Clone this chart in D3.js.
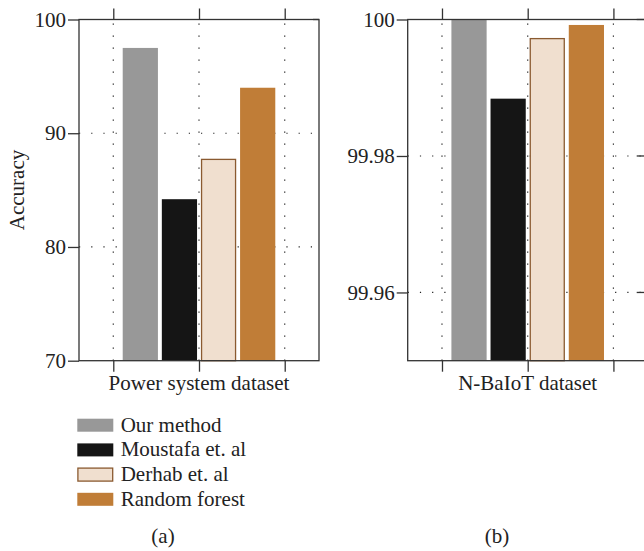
<!DOCTYPE html>
<html>
<head>
<meta charset="utf-8">
<script src="https://cdn.jsdelivr.net/npm/d3@7"></script>
<style>
  body { margin: 0; background: #fff; }
  text { font-family: "Liberation Serif", "DejaVu Serif", serif; fill: #222; }
</style>
</head>
<body>
<svg id="chart" width="644" height="551"></svg>
<script>
// data
const series = ["Our method", "Moustafa et. al", "Derhab et. al", "Random forest"];
const powerAcc = [97.5, 84.2, 87.7, 94.0];
const baiotAcc = [100.0, 99.9884, 99.9972, 99.9992];
const powerTicks = [70, 80, 90, 100];
const baiotTicks = [99.96, 99.98, 100];
const datasetLabels = ["Power system dataset", "N-BaIoT dataset"];
const panelLabels = ["(a)", "(b)"];

const fills = ["#989898", "#151515", "#f0dfcf", "#c07d37"];
const strokes = [null, null, "#8a5a30", null];
const axisColor = "#333";

const svg = d3.select("#chart");
const plotTop = 19.5, plotBottom = 360.7;

function drawPanel(opts) {
  const g = svg.append("g");
  const x = d3.scaleLinear().domain([0.3, 1.7]).range([opts.left, opts.left + 240]);
  const y = d3.scaleLinear().domain(opts.yDomain).range([plotBottom, plotTop]);
  const xTicks = [0.5, 1, 1.5];

  // dotted grid, behind bars
  g.selectAll(".vgrid").data(xTicks).enter().append("line")
    .attr("x1", d => x(d)).attr("x2", d => x(d))
    .attr("y1", plotBottom).attr("y2", plotTop)
    .attr("stroke", "#222").attr("stroke-width", 1.2)
    .attr("stroke-dasharray", "1.2,10.8");
  g.selectAll(".hgrid").data(opts.yTicks.filter(d => d !== opts.yDomain[0] && d !== opts.yDomain[1])).enter().append("line")
    .attr("x1", x.range()[0]).attr("x2", x.range()[1])
    .attr("y1", d => y(d)).attr("y2", d => y(d))
    .attr("stroke", "#222").attr("stroke-width", 1.2)
    .attr("stroke-dasharray", "1.2,11");

  // bars
  const band = d3.scaleBand().domain(series)
    .range([x(1 - 0.445), x(1 + 0.445)]).paddingInner(0.1).paddingOuter(0);
  g.selectAll(".bar").data(opts.values).enter().append("rect")
    .attr("x", (d, i) => band(series[i]) + (strokes[i] ? 0.6 : 0))
    .attr("width", (d, i) => band.bandwidth() - (strokes[i] ? 1.2 : 0))
    .attr("y", d => y(d))
    .attr("height", d => y(opts.yDomain[0]) - y(d))
    .attr("fill", (d, i) => fills[i])
    .attr("stroke", (d, i) => strokes[i] || "none")
    .attr("stroke-width", 1.3);

  // box
  const [x0, x1] = x.range();
  g.append("rect").attr("x", x0).attr("y", plotTop).attr("width", x1 - x0).attr("height", plotBottom - plotTop)
    .attr("fill", "none").attr("stroke", axisColor).attr("stroke-width", 1.3);

  // left axis, outward ticks
  const yAxis = g.append("g").attr("transform", `translate(${x0},0)`)
    .call(d3.axisLeft(y).tickValues(opts.yTicks).tickSize(11).tickPadding(2).tickFormat(opts.fmt));
  yAxis.select(".domain").remove();
  yAxis.selectAll("line").attr("stroke", axisColor).attr("stroke-width", 1.3);
  yAxis.selectAll("text").attr("font-size", 21).attr("font-family", "Liberation Serif").attr("fill", "#222");

  // right side inward ticks
  g.selectAll(".rtick").data(opts.rightTicks).enter().append("line")
    .attr("x1", x1 - opts.rightLen).attr("x2", x1)
    .attr("y1", d => y(d)).attr("y2", d => y(d))
    .attr("stroke", axisColor).attr("stroke-width", 1.3);

  // bottom and top x ticks, outward
  const xb = g.append("g").attr("transform", `translate(0,${plotBottom})`)
    .call(d3.axisBottom(x).tickValues(xTicks).tickSize(11).tickFormat(""));
  xb.select(".domain").remove();
  xb.selectAll("line").attr("stroke", axisColor).attr("stroke-width", 1.3);
  const xt = g.append("g").attr("transform", `translate(0,${plotTop})`)
    .call(d3.axisTop(x).tickValues(xTicks).tickSize(11).tickFormat(""));
  xt.select(".domain").remove();
  xt.selectAll("line").attr("stroke", axisColor).attr("stroke-width", 1.3);

  g.append("text").attr("x", x(1)).attr("y", 390)
    .attr("text-anchor", "middle").attr("font-size", 21).text(opts.label);
  g.append("text").attr("x", opts.panelX).attr("y", 543)
    .attr("text-anchor", "middle").attr("font-size", 21).text(opts.panel);
}

drawPanel({
  left: 79, yDomain: [70, 100], yTicks: powerTicks, values: powerAcc,
  fmt: d3.format("d"), rightTicks: [100], rightLen: 6,
  label: datasetLabels[0], panel: panelLabels[0], panelX: 163
});
drawPanel({
  left: 407.7, yDomain: [99.95, 100], yTicks: baiotTicks, values: baiotAcc,
  fmt: d => d === 100 ? "100" : d.toFixed(2), rightTicks: baiotTicks, rightLen: 11,
  label: datasetLabels[1], panel: panelLabels[1], panelX: 497
});

// y label
svg.append("text").attr("transform", "translate(24,190) rotate(-90)")
  .attr("text-anchor", "middle").attr("font-size", 21).text("Accuracy");

// legend
const legend = svg.append("g").attr("transform", "translate(77.3,0)");
const rows = legend.selectAll("g").data(series).enter().append("g")
  .attr("transform", (d, i) => `translate(0,${431.7 + i * 24.7})`);
rows.append("rect")
  .attr("x", (d, i) => strokes[i] ? 0.6 : 0).attr("y", -13)
  .attr("width", (d, i) => strokes[i] ? 34.8 : 36).attr("height", 13)
  .attr("fill", (d, i) => fills[i])
  .attr("stroke", (d, i) => strokes[i] || "none").attr("stroke-width", 1.3);
rows.append("text").attr("x", 43.4).attr("y", 0).attr("font-size", 21).text(d => d);
</script>
</body>
</html>
